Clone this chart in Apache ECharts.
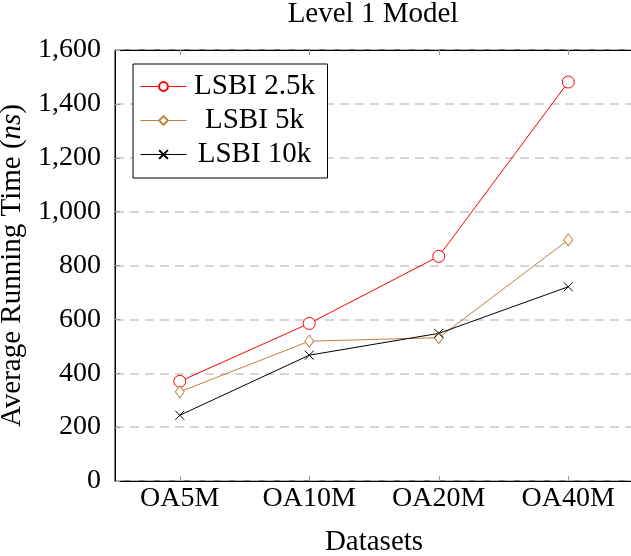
<!DOCTYPE html>
<html>
<head>
<meta charset="utf-8">
<script src="https://cdn.jsdelivr.net/npm/echarts@6/dist/echarts.min.js"></script>
<style>html,body{margin:0;padding:0;background:#fff;}#c{width:631px;height:556px;}</style>
</head>
<body>
<div id="c"></div>
<script>
const categories = ['OA5M', 'OA10M', 'OA20M', 'OA40M'];
const lsbi25k = [370, 585, 834, 1481];
const lsbi5k = [331, 519, 532, 895];
const lsbi10k = [244, 467, 548, 721];
const seriesNames = ['LSBI 2.5k', 'LSBI 5k', 'LSBI 10k'];
const yTicks = { min: 0, max: 1600, interval: 200 };

const FONT = '"Liberation Serif", "DejaVu Serif", serif';
const chart = echarts.init(document.getElementById('c'), null, { renderer: 'canvas' });
const crossPath = 'path://M0,0L10,10M10,0L0,10';

function fmt(v) { return v.toString().replace(/\B(?=(\d{3})+(?!\d))/g, ','); }

chart.setOption({
  animation: false,
  backgroundColor: '#fff',
  title: {
    text: 'Level 1 Model', left: 368, textAlign: 'center', top: -5,
    textStyle: { fontFamily: FONT, fontSize: 29, fontWeight: 'normal', color: '#000' }
  },
  grid: { left: 115, top: 50, width: 518, bottom: 75, show: true, borderColor: '#000', borderWidth: 1,
    backgroundColor: 'transparent', containLabel: false, outerBoundsMode: 'none' },
  legend: {
    orient: 'vertical', left: 133, top: 64,
    itemWidth: 46, itemHeight: 11, itemGap: 5,
    padding: [8, 10, 9, 7],
    borderColor: '#000', borderWidth: 1, backgroundColor: '#fff',
    lineStyle: { width: 1 },
    formatter: '{c|{name}}',
    textStyle: { fontFamily: FONT, fontSize: 29, color: '#000', lineHeight: 29,
      rich: { c: { fontFamily: FONT, fontSize: 29, color: '#000', lineHeight: 29, width: 126, align: 'center' } } },
    data: seriesNames
  },
  xAxis: [{
    type: 'category', data: categories, boundaryGap: true,
    name: 'Datasets', nameLocation: 'middle', nameGap: 47,
    nameTextStyle: { fontFamily: FONT, fontSize: 29, color: '#000' },
    axisLine: { show: true, lineStyle: { color: '#000', width: 1 } },
    axisTick: { show: true, inside: true, alignWithLabel: true, length: 5, lineStyle: { color: '#999' } },
    axisLabel: { fontFamily: FONT, fontSize: 28, color: '#000', margin: 4 },
    splitLine: { show: false }
  }, {
    type: 'category', data: categories, boundaryGap: true, position: 'top',
    axisLine: { show: true, lineStyle: { color: '#000', width: 1 } },
    axisTick: { show: true, inside: true, alignWithLabel: true, length: 5, lineStyle: { color: '#999' } },
    axisLabel: { show: false }, splitLine: { show: false }
  }],
  yAxis: {
    type: 'value', min: yTicks.min, max: yTicks.max, interval: yTicks.interval,
    name: 'Average Running Time ({i|ns})', nameLocation: 'middle', nameGap: 76,
    nameTextStyle: { fontFamily: FONT, fontSize: 29, color: '#000',
      rich: { i: { fontFamily: FONT, fontSize: 29, fontStyle: 'italic', color: '#000' } } },
    axisLine: { show: true, lineStyle: { color: '#000', width: 1 } },
    axisTick: { show: true, inside: true, length: 5, lineStyle: { color: '#999' } },
    axisLabel: { fontFamily: FONT, fontSize: 28, color: '#000', margin: 14, formatter: fmt,
      showMinLabel: true, showMaxLabel: true },
    splitLine: { show: true, lineStyle: { color: '#c8c8c8', type: [9, 6], width: 1.5 } }
  },
  series: [{
    name: seriesNames[0], type: 'line', data: lsbi25k, xAxisIndex: 0,
    symbol: 'circle', symbolSize: 12, showAllSymbol: true,
    lineStyle: { color: '#ff0000', width: 1 },
    itemStyle: { color: '#fff', borderColor: '#ff0000', borderWidth: 1 }
  }, {
    name: seriesNames[1], type: 'line', data: lsbi5k, xAxisIndex: 0,
    symbol: 'diamond', symbolSize: [9, 12],
    lineStyle: { color: '#bf8040', width: 1 },
    itemStyle: { color: '#fff', borderColor: '#bf8040', borderWidth: 1 }
  }, {
    name: seriesNames[2], type: 'line', data: lsbi10k, xAxisIndex: 0,
    symbol: crossPath, symbolSize: 9,
    lineStyle: { color: '#000', width: 1 },
    itemStyle: { color: 'none', borderColor: '#000', borderWidth: 1 }
  }]
});
</script>
</body>
</html>
